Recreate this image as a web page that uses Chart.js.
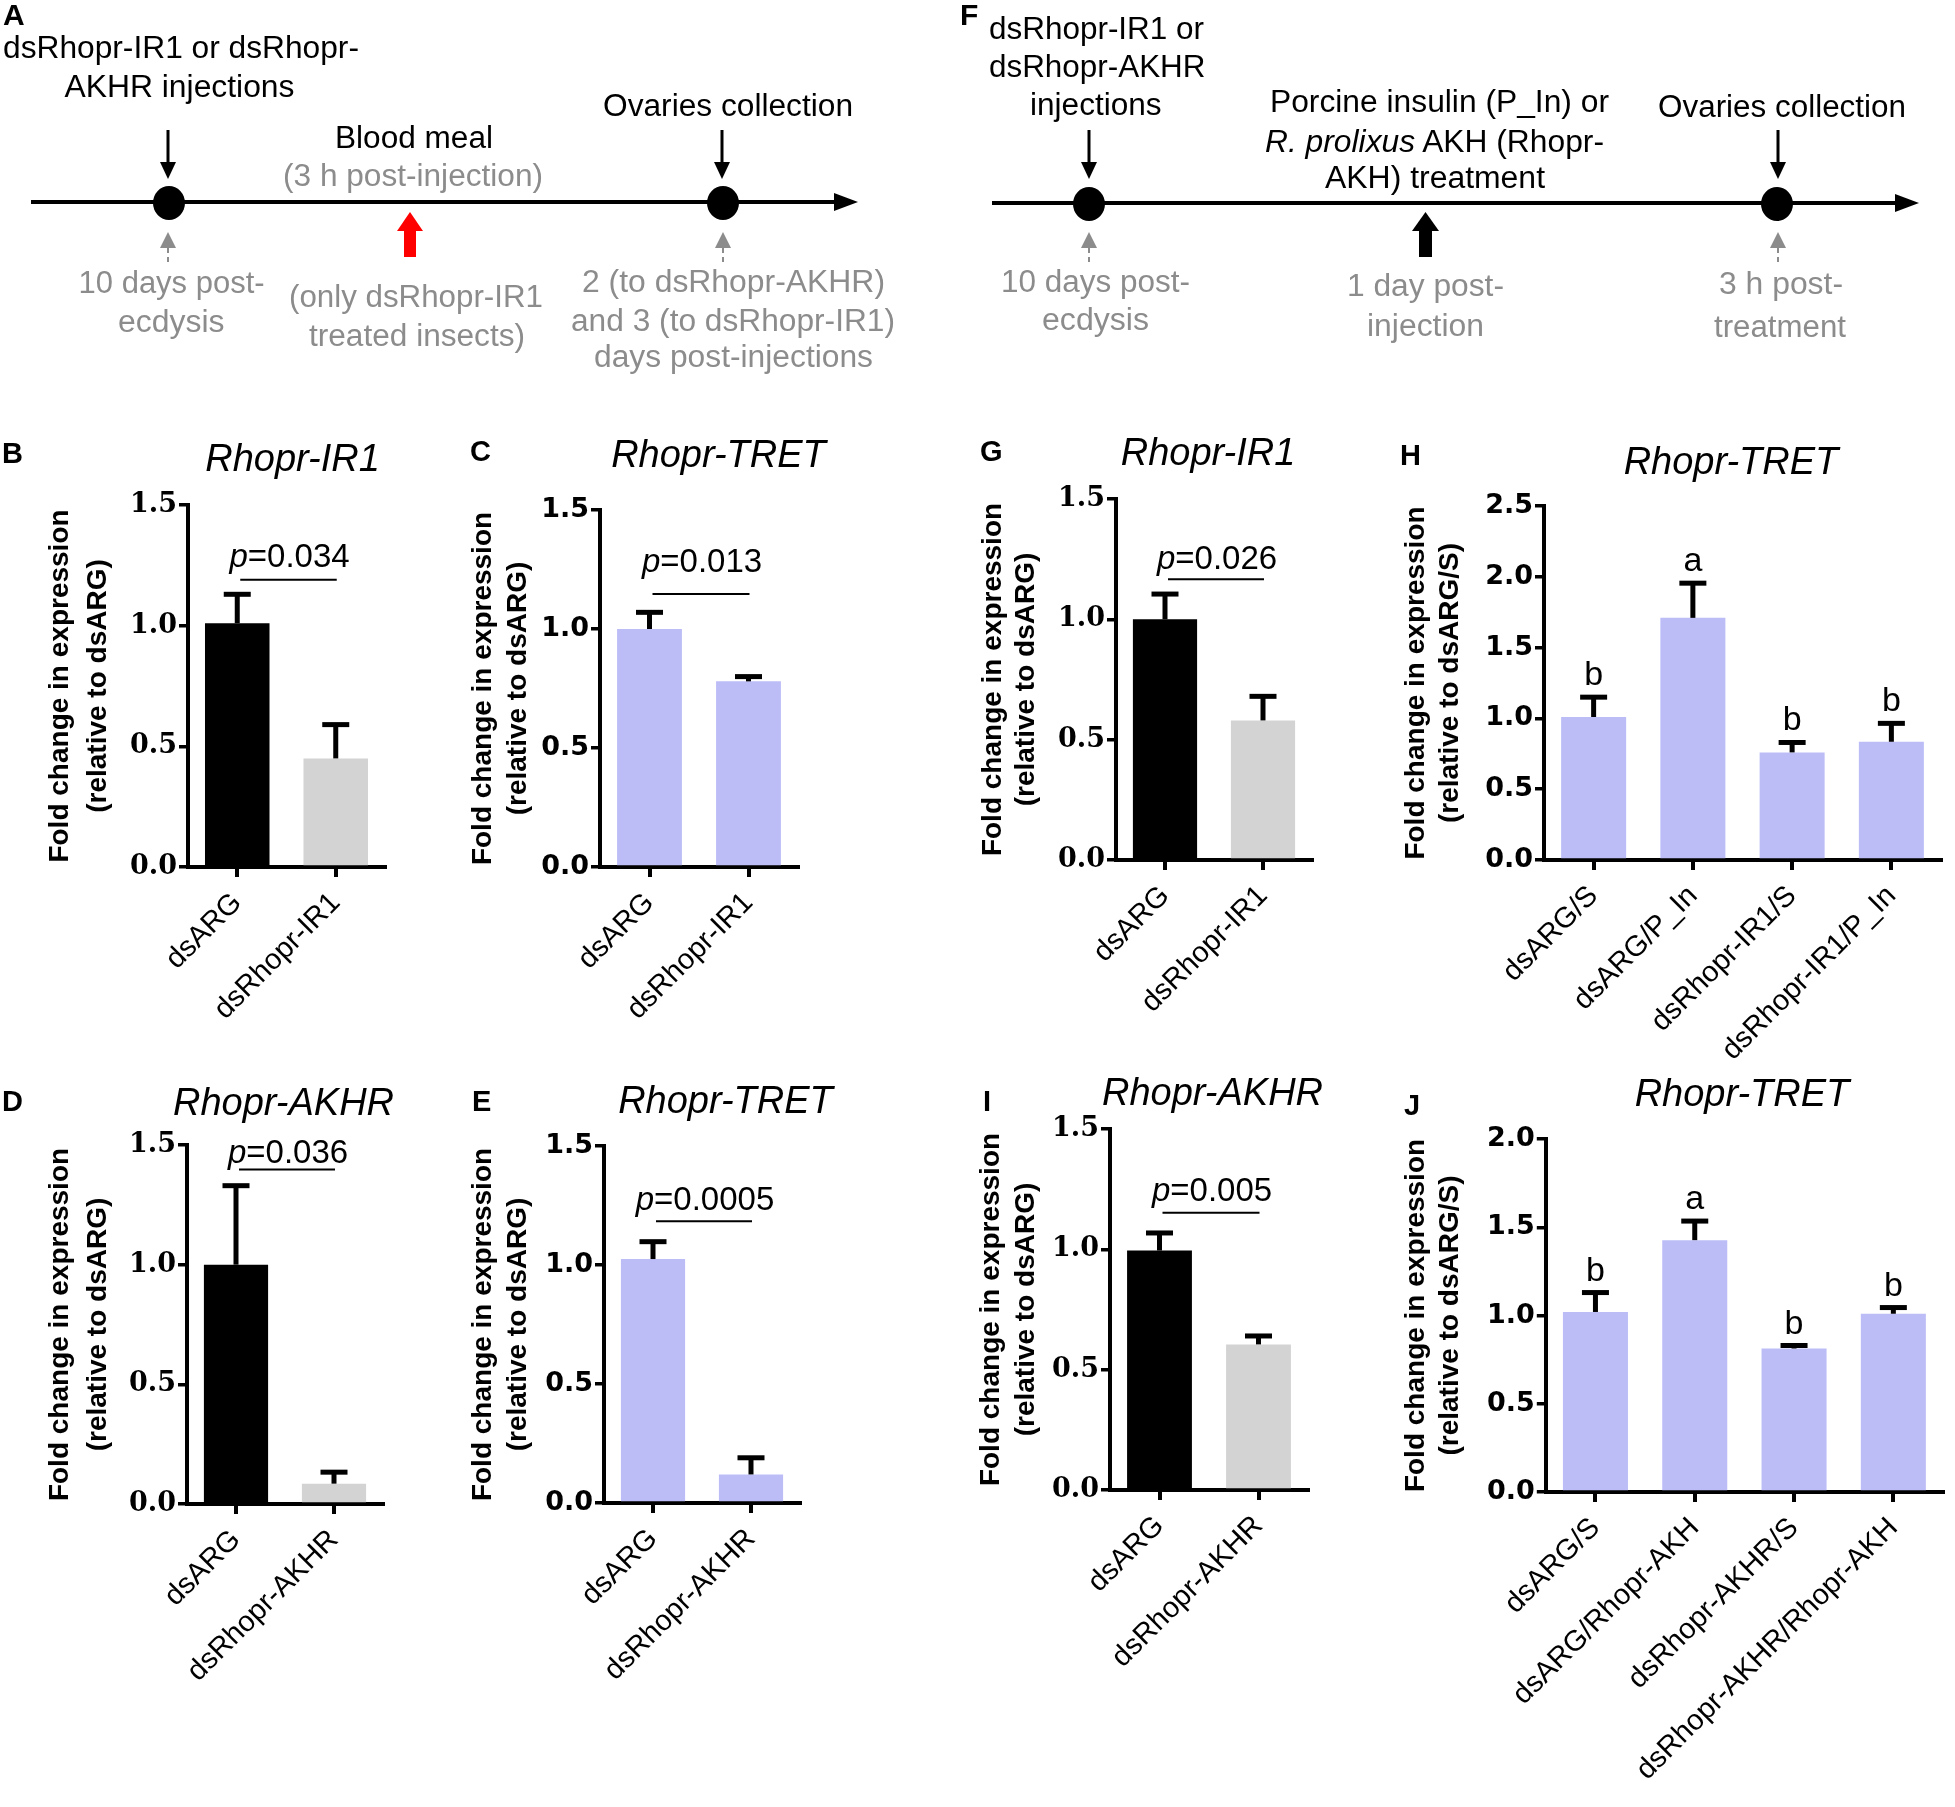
<!DOCTYPE html>
<html><head><meta charset="utf-8">
<script src="https://cdn.jsdelivr.net/npm/chart.js@4.4.0/dist/chart.umd.min.js"></script>
<style>
html,body{margin:0;padding:0;background:#fff;width:1955px;height:1807px;overflow:hidden;position:relative}
canvas{position:absolute}
#ov{position:absolute;left:0;top:0;pointer-events:none}
</style></head><body>
<svg id="ov" width="1955" height="1807" xmlns="http://www.w3.org/2000/svg">
  <!-- Timeline A -->
  <line x1="31" y1="202" x2="838" y2="202" stroke="#000" stroke-width="4"/>
  <polygon points="834,193 858,202 834,211" fill="#000"/>
  <ellipse cx="169" cy="203" rx="16" ry="17" fill="#000"/>
  <ellipse cx="723" cy="203" rx="16" ry="17" fill="#000"/>
  <line x1="168" y1="130" x2="168" y2="164" stroke="#000" stroke-width="3"/>
  <polygon points="160,162 176,162 168,179" fill="#000"/>
  <line x1="722" y1="130" x2="722" y2="164" stroke="#000" stroke-width="3"/>
  <polygon points="714,162 730,162 722,179" fill="#000"/>
  <polygon points="397,231 423,231 410,212" fill="#ff0000"/>
  <rect x="404" y="229" width="12" height="28" fill="#ff0000"/>
  <polygon points="160,248 176,248 168,232" fill="#8c8c8c"/>
  <line x1="168" y1="248" x2="168" y2="265" stroke="#8c8c8c" stroke-width="2" stroke-dasharray="5,4"/>
  <polygon points="715,248 731,248 723,232" fill="#8c8c8c"/>
  <line x1="723" y1="248" x2="723" y2="265" stroke="#8c8c8c" stroke-width="2" stroke-dasharray="5,4"/>
  <!-- Timeline F -->
  <line x1="992" y1="203" x2="1898" y2="203" stroke="#000" stroke-width="4"/>
  <polygon points="1895,194 1919,203 1895,212" fill="#000"/>
  <ellipse cx="1089" cy="204" rx="16" ry="17" fill="#000"/>
  <ellipse cx="1777" cy="204" rx="16" ry="17" fill="#000"/>
  <line x1="1089" y1="130" x2="1089" y2="164" stroke="#000" stroke-width="3"/>
  <polygon points="1081,162 1097,162 1089,179" fill="#000"/>
  <line x1="1778" y1="130" x2="1778" y2="164" stroke="#000" stroke-width="3"/>
  <polygon points="1770,162 1786,162 1778,179" fill="#000"/>
  <polygon points="1412,231 1439,231 1425.5,212" fill="#000"/>
  <rect x="1419" y="229" width="13" height="28" fill="#000"/>
  <polygon points="1081,248 1097,248 1089,232" fill="#8c8c8c"/>
  <line x1="1089" y1="248" x2="1089" y2="265" stroke="#8c8c8c" stroke-width="2" stroke-dasharray="5,4"/>
  <polygon points="1770,248 1786,248 1778,232" fill="#8c8c8c"/>
  <line x1="1778" y1="248" x2="1778" y2="265" stroke="#8c8c8c" stroke-width="2" stroke-dasharray="5,4"/>
</svg>
<script>
const SANS = '"Liberation Sans", Arial, sans-serif';
const DJSANS = '"DejaVu Sans", sans-serif';
const DJSERIF = '"DejaVu Serif", serif';

// ================= DATA =================
const categoriesIR1  = ['dsARG', 'dsRhopr-IR1'];
const categoriesAKHR = ['dsARG', 'dsRhopr-AKHR'];
const categoriesH = ['dsARG/S', 'dsARG/P_In', 'dsRhopr-IR1/S', 'dsRhopr-IR1/P_In'];
const categoriesJ = ['dsARG/S', 'dsARG/Rhopr-AKH', 'dsRhopr-AKHR/S', 'dsRhopr-AKHR/Rhopr-AKH'];

const meanB = [1.01, 0.45];            const semB = [0.12, 0.14];
const meanC = [1.00, 0.78];            const semC = [0.07, 0.02];
const meanG = [1.00, 0.58];            const semG = [0.105, 0.10];
const meanH = [1.01, 1.71, 0.76, 0.835]; const semH = [0.14, 0.245, 0.07, 0.13];
const meanD = [1.00, 0.085];           const semD = [0.33, 0.048];
const meanE = [1.025, 0.12];           const semE = [0.073, 0.07];
const meanI = [0.995, 0.605];          const semI = [0.073, 0.035];
const meanJ = [1.02, 1.427, 0.813, 1.01]; const semJ = [0.11, 0.108, 0.017, 0.035];

const pValueB = '0.034', pValueC = '0.013', pValueG = '0.026';
const pValueD = '0.036', pValueE = '0.0005', pValueI = '0.005';
const lettersH = ['b', 'a', 'b', 'b'];
const lettersJ = ['b', 'a', 'b', 'b'];

const ticks15 = [0, 0.5, 1.0, 1.5];
const ticks20 = [0, 0.5, 1.0, 1.5, 2.0];
const ticks25 = [0, 0.5, 1.0, 1.5, 2.0, 2.5];

const yTitleARG  = ['Fold change in expression', '(relative to dsARG)'];
const yTitleARGS = ['Fold change in expression', '(relative to dsARG/S)'];
const geneIR1 = 'Rhopr-IR1', geneTRET = 'Rhopr-TRET', geneAKHR = 'Rhopr-AKHR';

// ================= STYLE / LAYOUT =================
const BLACK = '#000000', GRAY = '#d3d3d3', LAV = '#bcbdf7';
const PANELS = [
 {id:'B', title:geneIR1, cats:categoriesIR1, mean:meanB, sem:semB, ticks:ticks15, yTitle:yTitleARG, p:pValueB, colors:[BLACK,GRAY], tf:DJSERIF,
  L:{axisL:188, axisR:385, yTop:505, yBot:867, c1:61, sp:37.5, pLine:1.19, pGap:13, tx:292.5, ty:471, lx:2, ly:463}},
 {id:'C', title:geneTRET, cats:categoriesIR1, mean:meanC, sem:semC, ticks:ticks15, yTitle:yTitleARG, p:pValueC, colors:[LAV,LAV], tf:DJSANS,
  L:{axisL:600, axisR:798, yTop:510, yBot:867, c1:483.5, sp:35, pLine:1.147, pGap:22, tx:718.5, ty:467, lx:470, ly:461}},
 {id:'G', title:geneIR1, cats:categoriesIR1, mean:meanG, sem:semG, ticks:ticks15, yTitle:yTitleARG, p:pValueG, colors:[BLACK,GRAY], tf:DJSERIF,
  L:{axisL:1116, axisR:1312, yTop:499, yBot:860, c1:993.5, sp:33, pLine:1.167, pGap:10, tx:1208, ty:465, lx:980, ly:461}},
 {id:'H', title:geneTRET, cats:categoriesH, mean:meanH, sem:semH, ticks:ticks25, yTitle:yTitleARGS, letters:lettersH, colors:[LAV,LAV,LAV,LAV], tf:DJSANS,
  L:{axisL:1544, axisR:1941, yTop:505.7, yBot:859.7, c1:1416, sp:34, tx:1731, ty:474, lx:1400, ly:464.6}},
 {id:'D', title:geneAKHR, cats:categoriesAKHR, mean:meanD, sem:semD, ticks:ticks15, yTitle:yTitleARG, p:pValueD, colors:[BLACK,GRAY], tf:DJSERIF,
  L:{axisL:187, axisR:383, yTop:1144.7, yBot:1503.9, c1:61, sp:37.5, pLine:1.398, pGap:6, tx:283.5, ty:1115, lx:2, ly:1111}},
 {id:'E', title:geneTRET, cats:categoriesAKHR, mean:meanE, sem:semE, ticks:ticks15, yTitle:yTitleARG, p:pValueE, colors:[LAV,LAV], tf:DJSANS,
  L:{axisL:604, axisR:800, yTop:1145.5, yBot:1502.7, c1:483.5, sp:35, pLine:1.184, pGap:11, tx:725.5, ty:1113, lx:472, ly:1111}},
 {id:'I', title:geneAKHR, cats:categoriesAKHR, mean:meanI, sem:semI, ticks:ticks15, yTitle:yTitleARG, p:pValueI, colors:[BLACK,GRAY], tf:DJSERIF,
  L:{axisL:1110, axisR:1308, yTop:1129, yBot:1490.4, c1:991.5, sp:35, pLine:1.152, pGap:12, tx:1212.5, ty:1105, lx:983, ly:1111}},
 {id:'J', title:geneTRET, cats:categoriesJ, mean:meanJ, sem:semJ, ticks:ticks20, yTitle:yTitleARGS, letters:lettersJ, colors:[LAV,LAV,LAV,LAV], tf:DJSANS,
  L:{axisL:1545.8, axisR:1943, yTop:1139, yBot:1491.6, c1:1416, sp:34, tx:1742, ty:1106, lx:1404, ly:1114.6}}
];

function errPlugin(P) {
  return { id: 'err' + P.id, afterDatasetsDraw(chart) {
    const ctx = chart.ctx, ys = chart.scales.y, bars = chart.getDatasetMeta(0).data;
    ctx.save(); ctx.strokeStyle = '#000'; ctx.lineWidth = 5; ctx.lineCap = 'butt';
    bars.forEach((b, i) => {
      const yv = ys.getPixelForValue(P.mean[i]);
      const ye = ys.getPixelForValue(P.mean[i] + P.sem[i]);
      ctx.beginPath(); ctx.moveTo(b.x, yv); ctx.lineTo(b.x, ye); ctx.stroke();
      ctx.beginPath(); ctx.moveTo(b.x - 13.5, ye); ctx.lineTo(b.x + 13.5, ye); ctx.stroke();
    });
    ctx.restore();
  }};
}
function annPlugin(P) {
  return { id: 'ann' + P.id, afterDatasetsDraw(chart) {
    const ctx = chart.ctx, ys = chart.scales.y, bars = chart.getDatasetMeta(0).data;
    ctx.save(); ctx.fillStyle = '#000'; ctx.textBaseline = 'alphabetic';
    if (P.p) {
      const yl = ys.getPixelForValue(P.L.pLine);
      ctx.strokeStyle = '#000'; ctx.lineWidth = 2;
      ctx.beginPath(); ctx.moveTo(bars[0].x + 3, yl); ctx.lineTo(bars[1].x + 1, yl); ctx.stroke();
      const fI = 'italic 33px ' + SANS, fR = '33px ' + SANS, rest = '=' + P.p;
      ctx.font = fI; const wp = ctx.measureText('p').width;
      ctx.font = fR; const wr = ctx.measureText(rest).width;
      const cx = (bars[0].x + bars[1].x) / 2 + 3, x0 = cx - (wp + wr) / 2, yb = yl - P.L.pGap;
      ctx.textAlign = 'left';
      ctx.font = fI; ctx.fillText('p', x0, yb);
      ctx.font = fR; ctx.fillText(rest, x0 + wp, yb);
    }
    if (P.letters) {
      ctx.font = '34px ' + SANS; ctx.textAlign = 'center';
      bars.forEach((b, i) => {
        const ye = ys.getPixelForValue(P.mean[i] + P.sem[i]);
        ctx.fillText(P.letters[i], b.x, ye - 12);
      });
    }
    ctx.restore();
  }};
}

function buildChart(P) {
  const L = P.L, padTop = 30, padR = 8, xH = 340;
  const left = Math.round(L.c1 - L.sp / 2);
  const top = Math.round(L.yTop) - padTop;
  const plotH = Math.round(L.yBot - L.yTop);
  const yW = L.axisL - left;
  const W = Math.round(L.axisR + padR - left);
  const H = padTop + plotH + xH;
  const cv = document.createElement('canvas');
  cv.width = W; cv.height = H;
  cv.style.left = left + 'px'; cv.style.top = top + 'px';
  cv.style.width = W + 'px'; cv.style.height = H + 'px';
  document.body.insertBefore(cv, document.getElementById('ov'));
  const yMax = P.ticks[P.ticks.length - 1];
  new Chart(cv, {
    type: 'bar',
    data: { labels: P.cats, datasets: [{ data: P.mean, backgroundColor: P.colors, borderWidth: 0,
      barPercentage: 0.655, categoryPercentage: 1 }] },
    options: {
      responsive: false, maintainAspectRatio: false, animation: false, devicePixelRatio: 1,
      layout: { padding: { top: padTop, right: padR, left: 0, bottom: 0 } },
      plugins: { legend: { display: false }, tooltip: { enabled: false }, title: { display: false } },
      scales: {
        x: {
          offset: true,
          ticks: { autoSkip: false, minRotation: 45, maxRotation: 45, color: '#000',
                   font: { family: SANS, size: 29 }, padding: 9 },
          grid: { offset: false, drawOnChartArea: false, drawTicks: true, tickLength: 10, color: '#000', lineWidth: 4 },
          border: { display: true, color: '#000', width: 4 },
          afterFit: s => { s.height = xH; }
        },
        y: {
          min: 0, max: yMax,
          afterBuildTicks: s => { s.ticks = P.ticks.map(v => ({ value: v })); },
          ticks: { callback: v => Number(v).toFixed(1), color: '#000',
                   font: { family: P.tf, size: 27, weight: 'bold' }, padding: 2 },
          grid: { drawOnChartArea: false, drawTicks: true, tickLength: 9, color: '#000', lineWidth: 3.5 },
          border: { display: true, color: '#000', width: 4 },
          title: { display: true, text: P.yTitle, color: '#000', padding: 0,
                   font: { family: SANS, size: 28, weight: 'bold', lineHeight: L.sp / 28 } },
          afterFit: s => { s.width = yW; }
        }
      }
    },
    plugins: [errPlugin(P), annPlugin(P)]
  });
}
PANELS.forEach(buildChart);

// ================= TEXT (SVG) =================
const NS = 'http://www.w3.org/2000/svg';
const ov = document.getElementById('ov');
function addText(parts, x, y, opts) {
  const t = document.createElementNS(NS, 'text');
  t.setAttribute('x', x); t.setAttribute('y', y);
  t.setAttribute('font-family', opts.family || SANS);
  t.setAttribute('font-size', opts.size);
  t.setAttribute('fill', opts.color || '#000');
  if (opts.weight) t.setAttribute('font-weight', opts.weight);
  if (opts.style) t.setAttribute('font-style', opts.style);
  if (opts.anchor) t.setAttribute('text-anchor', opts.anchor);
  if (opts.len) { t.setAttribute('textLength', opts.len); t.setAttribute('lengthAdjust', 'spacingAndGlyphs'); }
  (Array.isArray(parts) ? parts : [[parts]]).forEach(p => {
    const s = document.createElementNS(NS, 'tspan');
    s.textContent = p[0];
    if (p[1]) s.setAttribute('font-style', p[1]);
    t.appendChild(s);
  });
  ov.appendChild(t);
}
const TG = '#8c8c8c';
const timelineText = [
 ['dsRhopr-IR1 or dsRhopr-', 3, 58, 356, '#000'],
 ['AKHR injections', 64.5, 97, 230, '#000'],
 ['Ovaries collection', 603, 116, 250, '#000'],
 ['Blood meal', 335, 148, 158, '#000'],
 ['(3 h post-injection)', 283, 186, 260, TG],
 ['10 days post-', 78.6, 293, 186, TG],
 ['ecdysis', 118, 332, 106.5, TG],
 ['(only dsRhopr-IR1', 289, 307, 254, TG],
 ['treated insects)', 309, 346, 216, TG],
 ['2 (to dsRhopr-AKHR)', 582, 292, 303, TG],
 ['and 3 (to dsRhopr-IR1)', 571, 331, 324, TG],
 ['days post-injections', 594, 367, 279, TG],
 ['dsRhopr-IR1 or', 989, 39, 215, '#000'],
 ['dsRhopr-AKHR', 989, 77, 216.5, '#000'],
 ['injections', 1030, 115, 131.6, '#000'],
 ['Porcine insulin (P_In) or', 1270, 112, 339, '#000'],
 [[['R. prolixus', 'italic'], [' AKH (Rhopr-']], 1265, 152, 339, '#000'],
 ['AKH) treatment', 1325, 188, 220, '#000'],
 ['Ovaries collection', 1658, 117, 248, '#000'],
 ['10 days post-', 1001, 292, 189, TG],
 ['ecdysis', 1042, 330, 107, TG],
 ['1 day post-', 1347, 296, 157, TG],
 ['injection', 1367, 336, 117, TG],
 ['3 h post-', 1719, 294, 124, TG],
 ['treatment', 1714, 337, 132, TG]
];
timelineText.forEach(r => addText(r[0], r[1], r[2], { size: 31, len: r[3], color: r[4] }));
addText('A', 3, 25, { size: 30, weight: 'bold' });
addText('F', 960, 25, { size: 30, weight: 'bold' });
PANELS.forEach(P => {
  addText(P.title, P.L.tx, P.L.ty, { size: 38, style: 'italic', anchor: 'middle' });
  addText(P.id, P.L.lx, P.L.ly, { size: 29, weight: 'bold' });
});
</script>
</body></html>
